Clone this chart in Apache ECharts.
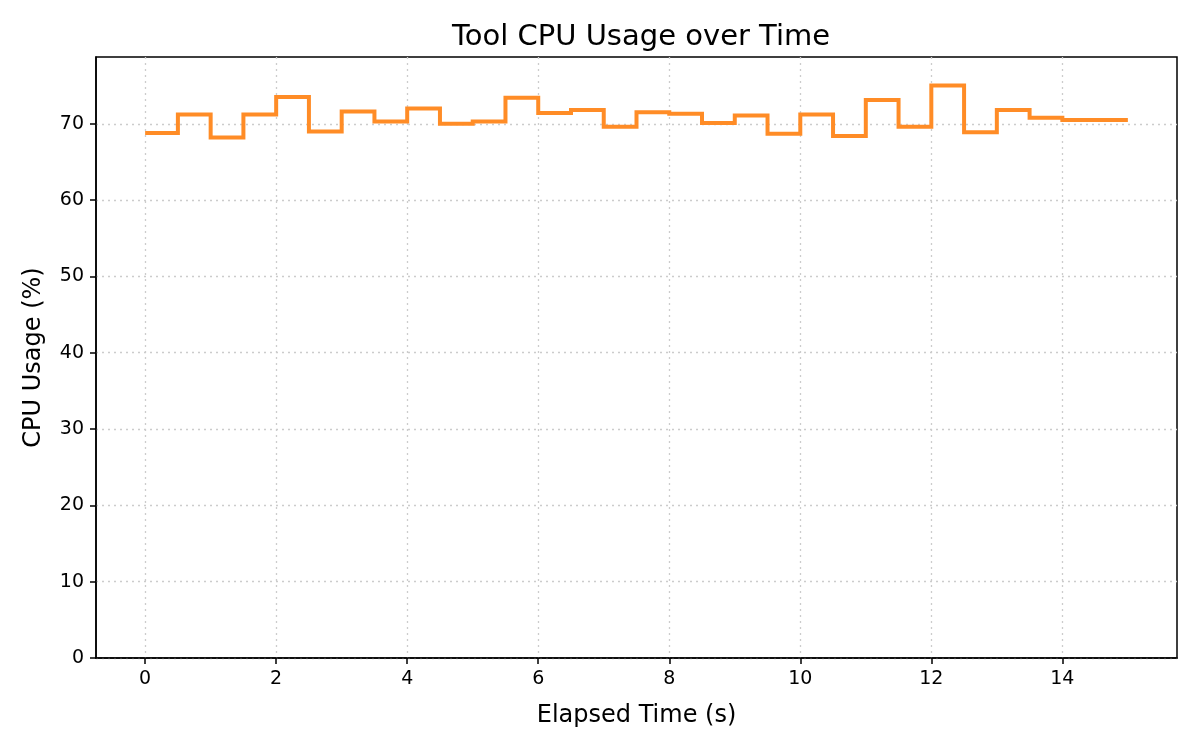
<!DOCTYPE html>
<html>
<head>
<meta charset="utf-8">
<title>Tool CPU Usage over Time</title>
<script src="https://cdn.jsdelivr.net/npm/echarts@6/dist/echarts.min.js"></script>
<style>
  html, body { margin: 0; padding: 0; background: #fff; }
  #chart { width: 1200px; height: 750px; }
</style>
</head>
<body>
<div id="chart"></div>
<script>
// elapsed time (s), sampled every 0.5 s
const times = [0, 0.5, 1, 1.5, 2, 2.5, 3, 3.5, 4, 4.5, 5, 5.5, 6, 6.5, 7, 7.5,
  8, 8.5, 9, 9.5, 10, 10.5, 11, 11.5, 12, 12.5, 13, 13.5, 14, 14.5, 15]
// cpu usage (%) at each sample
const cpuUsage = [68.8, 71.2, 68.2, 71.2, 73.5, 69.0, 71.6, 70.3, 72.0, 70.0,
  70.3, 73.4, 71.4, 71.8, 69.6, 71.5, 71.3, 70.1, 71.1, 68.7,
  71.2, 68.4, 73.1, 69.6, 75.0, 68.9, 71.8, 70.8, 70.5, 70.5, 70.5]
const xTicks = [0, 2, 4, 6, 8, 10, 12, 14]
const yTicks = [0, 10, 20, 30, 40, 50, 60, 70]

const font = 'DejaVu Sans'
const lineColor = '#ff8c26'
const chart = echarts.init(document.getElementById('chart'))

let points = times.map((t, i) => [t, cpuUsage[i]])

// step ("post") line drawn as one polyline; the built-in line series
// merges vertical steps under 2px into slopes
function renderSteps(params, api) {
  if (params.dataIndex !== 0) return null
  let pts = []
  points.forEach((p, i) => {
    if (i > 0) pts.push(api.coord([p[0], points[i - 1][1]]))
    pts.push(api.coord(p))
  })
  return {
    type: 'polyline',
    shape: { points: pts },
    style: { stroke: lineColor, lineWidth: 4, fill: null }
  }
}

chart.setOption({
  backgroundColor: '#fff',
  animation: false,
  title: {
    text: 'Tool CPU Usage over Time',
    left: 636,
    textAlign: 'center',
    top: 18,
    textStyle: { fontFamily: font, fontSize: 29, fontWeight: 'normal', color: '#000' }
  },
  grid: {
    left: 96, right: 23, top: 57, bottom: 92,
    show: true, borderColor: '#000', borderWidth: 1.5
  },
  xAxis: {
    type: 'value',
    min: -0.75,
    max: 15.75,
    name: 'Elapsed Time (s)',
    nameLocation: 'middle',
    nameGap: 46,
    nameTextStyle: { fontFamily: font, fontSize: 24, color: '#000' },
    axisLine: { onZero: false, lineStyle: { color: '#000', width: 1.5 } },
    axisTick: { customValues: xTicks, length: 6, lineStyle: { color: '#000', width: 1.5 } },
    axisLabel: { customValues: xTicks, fontFamily: font, fontSize: 19, color: '#000', margin: 12 },
    splitLine: { show: true, lineStyle: { color: '#cccccc', type: [2, 4], width: 1.3 } }
  },
  yAxis: {
    type: 'value',
    min: 0,
    max: 78.75,
    name: 'CPU Usage (%)',
    nameLocation: 'middle',
    nameGap: 50,
    nameTextStyle: { fontFamily: font, fontSize: 24, color: '#000' },
    axisLine: { show: true, onZero: false, lineStyle: { color: '#000', width: 1.5 } },
    axisTick: { show: true, customValues: yTicks, length: 6, lineStyle: { color: '#000', width: 1.5 } },
    axisLabel: { customValues: yTicks, fontFamily: font, fontSize: 19, color: '#000', margin: 12 },
    splitLine: { show: true, lineStyle: { color: '#cccccc', type: [2, 4], width: 1.3 } }
  },
  series: [{
    type: 'custom',
    name: 'CPU Usage',
    data: points,
    encode: { x: 0, y: 1 },
    renderItem: renderSteps
  }]
})
</script>
</body>
</html>
